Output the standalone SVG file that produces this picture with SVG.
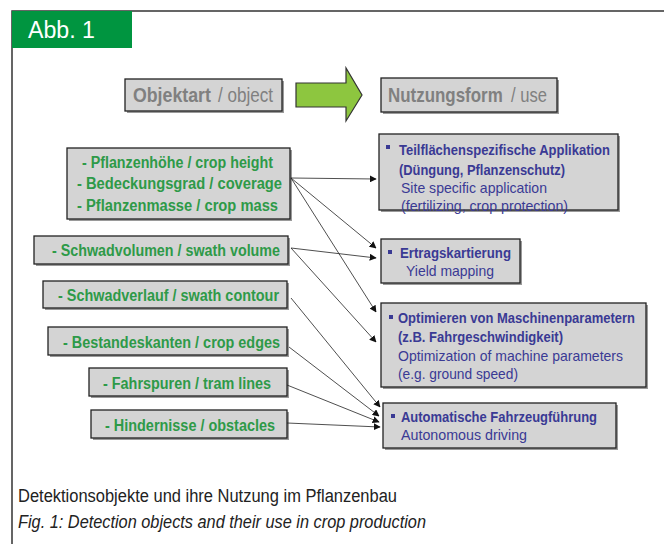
<svg xmlns="http://www.w3.org/2000/svg" width="664" height="544" viewBox="0 0 664 544">
<style>
  text { font-family: "Liberation Sans Narrow", "Liberation Sans", Arial, sans-serif; }
  .box { fill: #d4d4d4; stroke: #222; stroke-width: 1.3; }
  .shadow { fill: #9a9a9a; }
  .gb { fill: #2e9a48; font-size: 16px; font-weight: bold; }
  .bb { fill: #3a3a94; font-size: 14.5px; font-weight: bold; }
  .b { fill: #3a3a94; font-size: 14.5px; }
  .hdr { fill: #808080; font-size: 20px; }
  .cap { fill: #222; font-size: 18px; }
  .conn { stroke: #222; stroke-width: 0.8; fill: none; marker-end: url(#ah); }
  .bullet { fill: #3a3a94; }
</style>
<defs>
  <marker id="ah" viewBox="0 0 10 10" refX="9" refY="5" markerWidth="7" markerHeight="7" markerUnits="userSpaceOnUse" orient="auto">
    <path d="M0,0 L10,5 L0,10 z" fill="#111"/>
  </marker>
</defs>
<rect width="664" height="544" fill="#fff"/>
<path d="M12,544 L12,11 L664,11" fill="none" stroke="#333" stroke-width="1.5"/>
<g id="title">
  <rect x="12" y="11" width="120" height="37" fill="#009540"/>
  <text x="28" y="38" fill="#fff" font-size="23" textLength="67" lengthAdjust="spacingAndGlyphs">Abb. 1</text>
</g>

<g id="hdr-object">
  <rect x="127" y="81" width="157" height="32" class="shadow"/>
  <rect x="125" y="79" width="157" height="32" class="box"/>
  <text transform="translate(133,102) scale(0.887,1)" class="hdr" font-weight="bold">Objektart</text>
  <text transform="translate(218,102) scale(0.854,1)" class="hdr">/ object</text>
</g>
<g id="big-arrow">
  <polygon points="296,83 346,83 346,68 362,95 346,121 346,107 296,107" fill="#8dc63f" stroke="#333" stroke-width="1.2"/>
</g>
<g id="hdr-use">
  <rect x="383" y="80" width="176" height="34" class="shadow"/>
  <rect x="381" y="78" width="176" height="34" class="box"/>
  <text transform="translate(388,102) scale(0.847,1)" class="hdr" font-weight="bold">Nutzungsform</text>
  <text transform="translate(511,102) scale(0.83,1)" class="hdr">/ use</text>
</g>

<g id="n-crop">
  <rect x="69" y="150" width="223" height="71" class="shadow"/>
  <rect x="67" y="148" width="223" height="71" class="box"/>
  <text x="82" y="168" class="gb" textLength="191" lengthAdjust="spacingAndGlyphs">- Pflanzenhöhe / crop height</text>
  <text x="77" y="189" class="gb" textLength="205" lengthAdjust="spacingAndGlyphs">-  Bedeckungsgrad / coverage</text>
  <text x="77" y="211" class="gb" textLength="201" lengthAdjust="spacingAndGlyphs">-  Pflanzenmasse / crop mass</text>
</g>
<g id="n-swathvol">
  <rect x="36" y="238" width="254" height="28" class="shadow"/>
  <rect x="34" y="236" width="254" height="28" class="box"/>
  <text x="52" y="256" class="gb" textLength="228" lengthAdjust="spacingAndGlyphs">- Schwadvolumen / swath volume</text>
</g>
<g id="n-swathcont">
  <rect x="45" y="283" width="244" height="27" class="shadow"/>
  <rect x="43" y="281" width="244" height="27" class="box"/>
  <text x="58" y="301" class="gb" textLength="221" lengthAdjust="spacingAndGlyphs">- Schwadverlauf / swath contour</text>
</g>
<g id="n-edges">
  <rect x="50" y="329" width="239" height="28" class="shadow"/>
  <rect x="48" y="327" width="239" height="28" class="box"/>
  <text x="63" y="348" class="gb" textLength="217" lengthAdjust="spacingAndGlyphs">- Bestandeskanten / crop edges</text>
</g>
<g id="n-tram">
  <rect x="91" y="370" width="198" height="28" class="shadow"/>
  <rect x="89" y="368" width="198" height="28" class="box"/>
  <text x="103" y="389" class="gb" textLength="168" lengthAdjust="spacingAndGlyphs">- Fahrspuren / tram lines</text>
</g>
<g id="n-obst">
  <rect x="93" y="412" width="196" height="28" class="shadow"/>
  <rect x="91" y="410" width="196" height="28" class="box"/>
  <text x="105" y="431" class="gb" textLength="170" lengthAdjust="spacingAndGlyphs">- Hindernisse / obstacles</text>
</g>

<g id="u-site">
  <rect x="381" y="136" width="239" height="76" class="shadow"/>
  <rect x="379" y="134" width="239" height="76" class="box"/>
  <rect x="386" y="145" width="4" height="4" class="bullet"/>
  <text x="399" y="155" class="bb" textLength="211" lengthAdjust="spacingAndGlyphs">Teilflächenspezifische Applikation</text>
  <text x="399" y="175" class="bb" textLength="166" lengthAdjust="spacingAndGlyphs">(Düngung, Pflanzenschutz)</text>
  <text x="401" y="193" class="b" textLength="146" lengthAdjust="spacingAndGlyphs">Site specific application</text>
  <text x="401" y="211" class="b" textLength="167" lengthAdjust="spacingAndGlyphs">(fertilizing, crop protection)</text>
</g>
<g id="u-yield">
  <rect x="383" y="241" width="139" height="44" class="shadow"/>
  <rect x="381" y="239" width="139" height="44" class="box"/>
  <rect x="388" y="250" width="4" height="4" class="bullet"/>
  <text x="400" y="258" class="bb" textLength="111" lengthAdjust="spacingAndGlyphs">Ertragskartierung</text>
  <text x="406" y="276" class="b" textLength="88" lengthAdjust="spacingAndGlyphs">Yield mapping</text>
</g>
<g id="u-opt">
  <rect x="383" y="305" width="265" height="84" class="shadow"/>
  <rect x="381" y="303" width="265" height="84" class="box"/>
  <rect x="389" y="315" width="4" height="4" class="bullet"/>
  <text x="398" y="323" class="bb" textLength="237" lengthAdjust="spacingAndGlyphs">Optimieren von Maschinenparametern</text>
  <text x="398" y="342" class="bb" textLength="165" lengthAdjust="spacingAndGlyphs">(z.B. Fahrgeschwindigkeit)</text>
  <text x="398" y="361" class="b" textLength="225" lengthAdjust="spacingAndGlyphs">Optimization of machine parameters</text>
  <text x="398" y="379" class="b" textLength="120" lengthAdjust="spacingAndGlyphs">(e.g. ground speed)</text>
</g>
<g id="u-auto">
  <rect x="385" y="405" width="233" height="45" class="shadow"/>
  <rect x="383" y="403" width="233" height="45" class="box"/>
  <rect x="391" y="414" width="4" height="4" class="bullet"/>
  <text x="401" y="422" class="bb" textLength="196" lengthAdjust="spacingAndGlyphs">Automatische Fahrzeugführung</text>
  <text x="401" y="440" class="b" textLength="126" lengthAdjust="spacingAndGlyphs">Autonomous driving</text>
</g>

<g id="connectors">
  <line x1="291" y1="178" x2="376" y2="179" class="conn"/>
  <line x1="291" y1="178" x2="376" y2="248" class="conn"/>
  <line x1="291" y1="178" x2="376" y2="312" class="conn"/>
  <line x1="291" y1="248" x2="376" y2="258" class="conn"/>
  <line x1="291" y1="248" x2="376" y2="342" class="conn"/>
  <line x1="291" y1="298" x2="380" y2="407" class="conn"/>
  <line x1="289" y1="347" x2="379" y2="416" class="conn"/>
  <line x1="287" y1="385" x2="379" y2="422" class="conn"/>
  <line x1="287" y1="423" x2="380" y2="427" class="conn"/>
</g>

<g id="caption">
  <text x="18" y="502" class="cap" textLength="379" lengthAdjust="spacingAndGlyphs">Detektionsobjekte und ihre Nutzung im Pflanzenbau</text>
  <text x="18" y="528" class="cap" font-style="italic" textLength="408" lengthAdjust="spacingAndGlyphs">Fig. 1: Detection objects and their use in crop production</text>
</g>
</svg>
